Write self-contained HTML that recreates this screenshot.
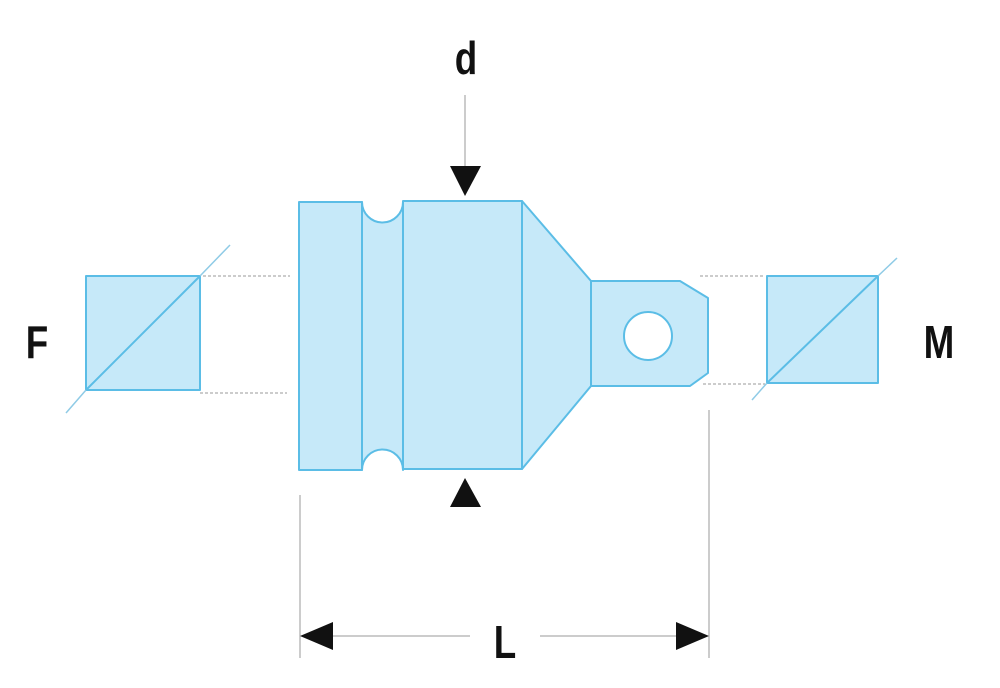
<!DOCTYPE html>
<html><head><style>body{margin:0;background:#fff}svg{display:block}</style></head><body>
<svg width="1000" height="688" viewBox="0 0 1000 688" xmlns="http://www.w3.org/2000/svg">
<g font-family="Liberation Sans Narrow, Liberation Sans, sans-serif" font-size="46" font-weight="bold" fill="#111" text-anchor="middle">
<text x="466" y="74" transform="translate(466 0) scale(0.8 1) translate(-466 0)">d</text>
<text x="37" y="358" transform="translate(37 0) scale(0.8 1) translate(-37 0)">F</text>
<text x="939" y="358" transform="translate(939 0) scale(0.8 1) translate(-939 0)">M</text>
<text x="505" y="658" transform="translate(505 0) scale(0.8 1) translate(-505 0)">L</text>
</g>
<g stroke="#bbb" stroke-width="1.5" stroke-dasharray="3 2">
<line x1="203" y1="276" x2="290" y2="276"/><line x1="200" y1="393" x2="287" y2="393"/>
<line x1="700" y1="276" x2="765" y2="276"/><line x1="703" y1="384" x2="765" y2="384"/>
</g>
<g stroke="#bbb" stroke-width="1.5">
<line x1="300" y1="495" x2="300" y2="658"/><line x1="709" y1="410" x2="709" y2="658"/>
<line x1="330" y1="636" x2="470" y2="636"/><line x1="540" y1="636" x2="680" y2="636"/>
<line x1="465" y1="95" x2="465" y2="166"/>
</g>
<g fill="#111">
<polygon points="300,636 333,622 333,650"/><polygon points="709,636 676,622 676,650"/>
<polygon points="450,166 481,166 465,196"/><polygon points="450,507 481,507 465,478"/>
</g>
<g fill="#c6e9f9" stroke="#5bbde6" stroke-width="2" stroke-linejoin="round">
<rect x="86" y="276" width="114" height="114"/>
<rect x="767" y="276" width="111" height="107"/>
<rect x="299" y="202" width="63" height="268"/>
<path d="M362 202 A20.5 20.5 0 0 0 403 202 L403 470 A20.5 20.5 0 0 0 362 470 Z"/>
<rect x="403" y="201" width="119" height="268"/>
<polygon points="522,201 591,281 591,386 522,469"/>
<path d="M591 281 L680 281 L708 298 L708 373 L690 386 L591 386 Z M672 336 A24 24 0 1 0 624 336 A24 24 0 1 0 672 336 Z" fill-rule="evenodd"/>
</g>
<g stroke-width="1.5">
<line x1="66" y1="413" x2="86" y2="390" stroke="#8fcbe6"/><line x1="200" y1="276" x2="230" y2="245" stroke="#8fcbe6"/>
<line x1="86" y1="390" x2="200" y2="276" stroke="#5bbde6" stroke-width="2"/>
<line x1="752" y1="400" x2="767" y2="383" stroke="#8fcbe6"/><line x1="878" y1="276" x2="897" y2="258" stroke="#8fcbe6"/>
<line x1="767" y1="383" x2="878" y2="276" stroke="#5bbde6" stroke-width="2"/>
</g>
</svg>
</body></html>
